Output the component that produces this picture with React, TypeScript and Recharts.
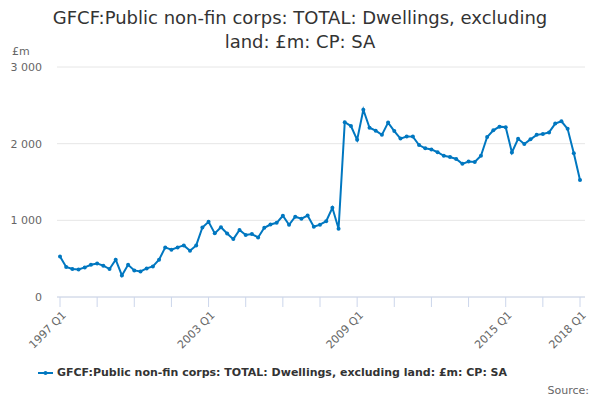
import React from 'react';
import { LineChart, Line, XAxis, YAxis, CartesianGrid } from 'recharts';

// quarterly series, 1997 Q1 .. 2018 Q1
const years = [1997, 1998, 1999, 2000, 2001, 2002, 2003, 2004, 2005, 2006, 2007, 2008, 2009, 2010, 2011, 2012, 2013, 2014, 2015, 2016, 2017, 2018];
const quarters = ['Q1', 'Q2', 'Q3', 'Q4'];
const categories: string[] = [];
years.forEach(y => quarters.forEach(q => categories.push(`${y} ${q}`)));
categories.length = 85;

const values = [
  529, 391, 365, 360, 386, 421, 438, 408, 365, 486,
  282, 421, 347, 334, 373, 399, 486, 647, 617, 647,
  673, 604, 673, 907, 980, 830, 910, 828, 755, 875,
  808, 821, 777, 903, 945, 968, 1060, 942, 1047, 1021,
  1062, 916, 944, 988, 1163, 890, 2280, 2230, 2050, 2442,
  2208, 2170, 2115, 2275, 2165, 2066, 2094, 2092, 1982, 1940,
  1925, 1888, 1842, 1825, 1800, 1737, 1766, 1760, 1842, 2087,
  2174, 2222, 2214, 1886, 2063, 1995, 2056, 2115, 2125, 2147,
  2262, 2292, 2193, 1874, 1525,
];

const xTicks = categories.filter((_, i) => i % 6 === 0);
const xLabels = ['1997 Q1', '2003 Q1', '2009 Q1', '2015 Q1', '2018 Q1'];
const yTicks = [0, 1000, 2000, 3000];

const seriesName = 'GFCF:Public non-fin corps: TOTAL: Dwellings, excluding land: £m: CP: SA';
const titleLines = ['GFCF:Public non-fin corps: TOTAL: Dwellings, excluding', 'land: £m: CP: SA'];

const data = categories.map((c, i) => ({ name: c, value: values[i] }));

const FONT = '"DejaVu Sans", sans-serif';
const BLUE = '#0077c0';

const XTick = (props: any) => {
  const { x, y, payload } = props;
  if (!xLabels.includes(payload.value)) return null;
  return (
    <g transform={`translate(${x + 4},${y + 4})`}>
      <text textAnchor="end" transform="rotate(-45)" fontSize={11} fill="#666" fontFamily={FONT} dy={4}>
        {payload.value}
      </text>
    </g>
  );
};

const fmt = (v: number) => v.toLocaleString('en-US').replace(/,/g, ' ');

export default function App() {
  return (
    <div style={{ position: 'absolute', left: 0, top: 0, width: 600, height: 400, background: '#fff', fontFamily: FONT }}>
      <div style={{ position: 'absolute', top: 6, left: 0, width: 600, textAlign: 'center', fontSize: 18, lineHeight: '24px', color: '#333' }}>
        {titleLines.map(t => <div key={t}>{t}</div>)}
      </div>
      <div style={{ position: 'absolute', top: 45, left: 12, fontSize: 11, color: '#666' }}>£m</div>
      <LineChart width={600} height={400} data={data} margin={{ top: 67, right: 15, bottom: 73, left: 0 }}>
        <CartesianGrid vertical={false} stroke="#e6e6e6" />
        <XAxis
          dataKey="name"
          ticks={xTicks}
          interval={0}
          tick={<XTick />}
          tickSize={10}
          tickLine={{ stroke: '#ccd6eb' }}
          axisLine={{ stroke: '#ccd6eb' }}
          padding={{ left: 3, right: 5 }}
        />
        <YAxis
          domain={[0, 3000]}
          ticks={yTicks}
          width={57}
          axisLine={false}
          tickLine={false}
          tickMargin={9}
          tickFormatter={fmt}
          tick={{ fontSize: 11, fill: '#666', fontFamily: FONT }}
        />
        <Line
          dataKey="value"
          stroke={BLUE}
          strokeWidth={2}
          dot={{ r: 2, fill: BLUE, stroke: BLUE, strokeWidth: 0 }}
          isAnimationActive={false}
        />
      </LineChart>
      <div style={{ position: 'absolute', top: 366, left: 38, display: 'flex', alignItems: 'center', fontSize: 11, fontWeight: 'bold', color: '#333', whiteSpace: 'nowrap' }}>
        <svg width={15} height={12} style={{ marginRight: 4 }}>
          <line x1={0} y1={6} x2={15} y2={6} stroke={BLUE} strokeWidth={2} />
          <circle cx={7.5} cy={6} r={2} fill={BLUE} />
        </svg>
        <span>{seriesName}</span>
      </div>
      <div style={{ position: 'absolute', top: 384, right: 11, fontSize: 11, color: '#666' }}>Source:</div>
    </div>
  );
}
